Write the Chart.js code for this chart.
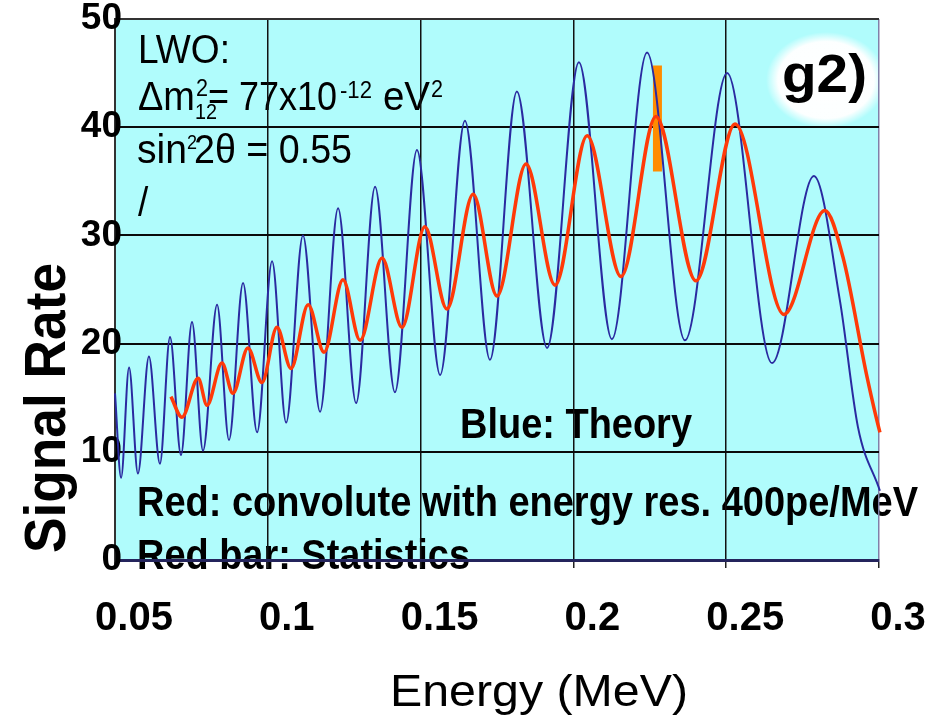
<!DOCTYPE html>
<html>
<head>
<meta charset="utf-8">
<script src="https://cdn.jsdelivr.net/npm/chart.js@4.4.1/dist/chart.umd.min.js"></script>
<style>
    body { margin: 0; background: #ffffff; }
</style>
</head>
<body>
<canvas id="grafico" width="935" height="726"></canvas>
<script>
// Dados - curva azul (teoria)
const energiaTeoria = [0.0500, 0.0520, 0.0546, 0.0575, 0.0611, 0.0647, 0.0680, 0.0716, 0.0752, 0.0788,
    0.0834, 0.0873, 0.0919, 0.0965, 0.1014, 0.1060, 0.1115, 0.1171, 0.1230, 0.1289,
    0.1351, 0.1416, 0.1488, 0.1564, 0.1645, 0.1727, 0.1815, 0.1914, 0.2018, 0.2126,
    0.2241, 0.2365, 0.2503, 0.2650, 0.2787, 0.2872, 0.2931, 0.3003, 0.3030];
const sinalTeoria = [15.4, 7.6, 17.8, 8.0, 18.8, 8.9, 20.6, 9.7, 22.0, 10.1,
    23.6, 11.1, 25.6, 11.8, 27.6, 12.7, 30.0, 13.7, 32.5, 14.5,
    34.5, 15.5, 37.9, 17.1, 40.6, 18.5, 43.3, 19.6, 46.0, 20.4,
    46.9, 20.3, 45.0, 18.2, 35.5, 24.0, 12.3, 6.4, 3.9];

// curva vermelha (convolução com resolução em energia)
const energiaConvolucao = [0.0683, 0.0719, 0.0772, 0.0801, 0.0850, 0.0886, 0.0935, 0.0981, 0.1030, 0.1076,
    0.1132, 0.1184, 0.1246, 0.1302, 0.1374, 0.1439, 0.1514, 0.1586, 0.1672, 0.1750,
    0.1845, 0.1940, 0.2045, 0.2156, 0.2270, 0.2401, 0.2529, 0.2689, 0.2823, 0.2882,
    0.2961, 0.3003, 0.3020];
const sinalConvolucao = [15.1, 13.2, 16.8, 14.3, 18.2, 15.4, 19.6, 16.4, 21.5, 17.7,
    23.6, 19.2, 25.9, 20.3, 27.9, 21.5, 30.8, 23.2, 33.8, 24.4,
    36.6, 25.4, 39.2, 26.2, 41.0, 25.8, 40.3, 22.7, 32.3, 28.0,
    16.9, 11.8, 10.2];

// barra de erro (estatística)
const energiaBarra = [0.2275, 0.2275];
const sinalBarra = [35.9, 45.7];

// eixos
const ticksEnergia = [0.05, 0.1, 0.15, 0.2, 0.25, 0.3];
const rotulosEnergia = ['0.05', '0.1', '0.15', '0.2', '0.25', '0.3'];
const ticksSinal = [0, 10, 20, 30, 40, 50];
const rotulosSinal = ['0', '10', '20', '30', '40', '50'];

const fonteBase = "'Liberation Sans', Arial, sans-serif";

function juntarPontos(xs, ys) {
    let pontos = [];
    for (let i = 0; i < xs.length; i++) {
        pontos.push({ x: xs[i], y: ys[i] });
    }
    return pontos;
}

// escreve um texto ajustando a largura (o original é um pouco estreito)
function escrever(ctx, texto, x, y, fonte, largura) {
    ctx.save();
    ctx.font = fonte;
    ctx.textAlign = 'left';
    ctx.textBaseline = 'alphabetic';
    let medida = ctx.measureText(texto).width;
    ctx.translate(x, y);
    ctx.scale(largura ? largura / medida : 0.9, 1);
    ctx.fillText(texto, 0, 0);
    ctx.restore();
}

// fundo ciano, brilho do "g2)" e textos
const pluginFundo = {
    id: 'fundo',
    beforeDraw(chart) {
        const ctx = chart.ctx;
        const a = chart.chartArea;
        ctx.save();
        ctx.fillStyle = '#ffffff';
        ctx.fillRect(0, 0, chart.width, chart.height);
        ctx.fillStyle = '#b0fcfc';
        ctx.fillRect(a.left, a.top, a.right - a.left, a.bottom - a.top);

        ctx.save();
        ctx.translate(826, 80);
        ctx.scale(1, 0.8);
        let brilho = ctx.createRadialGradient(0, 0, 0, 0, 0, 60);
        brilho.addColorStop(0, 'rgba(255,255,255,1)');
        brilho.addColorStop(0.8, 'rgba(255,255,255,0.97)');
        brilho.addColorStop(1, 'rgba(255,255,255,0)');
        ctx.fillStyle = brilho;
        ctx.beginPath();
        ctx.arc(0, 0, 60, 0, Math.PI * 2);
        ctx.fill();
        ctx.restore();

        ctx.fillStyle = '#000000';
        const reg = '41px ' + fonteBase;
        const peq = '24px ' + fonteBase;
        const neg = 'bold 43px ' + fonteBase;

        escrever(ctx, 'LWO:', 138, 63, reg, 92);
        escrever(ctx, 'Δm', 138, 110, reg, 57);
        escrever(ctx, '2', 196, 96, peq);
        escrever(ctx, '12', 195, 119, '22px ' + fonteBase);
        escrever(ctx, '= 77x10', 208, 110, reg, 129);
        escrever(ctx, '-12', 340, 98, peq, 32);
        escrever(ctx, 'eV', 383, 110, reg, 47);
        escrever(ctx, '2', 431, 97, peq);
        escrever(ctx, 'sin', 137, 163, reg, 50);
        escrever(ctx, '2', 187, 149, '20px ' + fonteBase);
        escrever(ctx, '2θ = 0.55', 194, 163, reg, 158);
        escrever(ctx, '/', 138, 216, reg);

        escrever(ctx, 'g2)', 782, 92, 'bold 54px ' + fonteBase, 85);
        escrever(ctx, 'Blue: Theory', 460, 438, neg, 232);
        escrever(ctx, 'Red: convolute with energy res. 400pe/MeV', 137, 516, neg, 781);
        escrever(ctx, 'Red bar: Statistics', 137, 569, neg, 333);

        // títulos dos eixos
        escrever(ctx, 'Energy (MeV)', 390, 706, '44px ' + fonteBase, 298);
        ctx.save();
        ctx.translate(65, 553);
        ctx.rotate(-Math.PI / 2);
        escrever(ctx, 'Signal Rate', 0, 0, 'bold 57px ' + fonteBase, 290);
        ctx.restore();

        ctx.restore();
    }
};

function plotarGrafico() {
    let dados = {
        datasets: [{
            label: 'Red: convolute',
            data: juntarPontos(energiaConvolucao, sinalConvolucao),
            borderColor: '#ff3a08',
            borderWidth: 3.5,
            pointRadius: 0,
            cubicInterpolationMode: 'monotone',
            clip: { left: 5, top: 5, right: 12, bottom: 5 },
            order: 0
        }, {
            label: 'Blue: Theory',
            data: juntarPontos(energiaTeoria, sinalTeoria),
            borderColor: '#2a2aa0',
            borderWidth: 2,
            pointRadius: 0,
            cubicInterpolationMode: 'monotone',
            clip: { left: 5, top: 5, right: 12, bottom: 5 },
            order: 1
        }, {
            label: 'Red bar: Statistics',
            data: juntarPontos(energiaBarra, sinalBarra),
            borderColor: '#ff8c00',
            borderWidth: 9,
            borderCapStyle: 'butt',
            pointRadius: 0,
            order: 2
        }]
    };

    const config = {
        type: 'line',
        data: dados,
        options: {
            responsive: false,
            animation: false,
            devicePixelRatio: 1,
            layout: { padding: { left: 0, right: 56, top: 19, bottom: 0 } },
            plugins: {
                legend: { display: false },
                tooltip: { enabled: false }
            },
            scales: {
                x: {
                    type: 'linear',
                    min: 0.05,
                    max: 0.3,
                    afterBuildTicks: function (s) {
                        s.ticks = ticksEnergia.map(v => ({ value: v }));
                    },
                    afterFit: function (s) {
                        s.height = 166;
                        s.paddingLeft = 0;
                        s.paddingRight = 0;
                    },
                    ticks: {
                        callback: (v, i) => rotulosEnergia[i],
                        autoSkip: false,
                        maxRotation: 0,
                        labelOffset: 19,
                        padding: 27,
                        color: '#000000',
                        font: { family: fonteBase, size: 40, weight: 'bold', lineHeight: 1.2 }
                    },
                    grid: {
                        color: c => (c.tick && c.tick.value === 0.3) ? '#8080a8' : '#111111',
                        lineWidth: 1.5,
                        drawTicks: true,
                        tickLength: 8,
                        tickColor: '#222222'
                    },
                    border: { color: '#24245c', width: 3 }
                },
                y: {
                    min: 0,
                    max: 50,
                    afterBuildTicks: function (s) {
                        s.ticks = ticksSinal.map(v => ({ value: v }));
                    },
                    afterFit: function (s) {
                        s.width = 115;
                        s.paddingTop = 0;
                        s.paddingBottom = 0;
                        // no original os números encostam/passam da borda do gráfico
                        s._computeLabelArea = () => undefined;
                    },
                    ticks: {
                        callback: (v, i) => rotulosSinal[i],
                        autoSkip: false,
                        padding: -7,
                        color: '#000000',
                        font: { family: fonteBase, size: 37, weight: 'bold', lineHeight: 1.2 }
                    },
                    grid: {
                        color: c => {
                            if (!c.tick) return '#111111';
                            if (c.tick.value === 0) return '#24245c';
                            if (c.tick.value === 50) return '#333333';
                            return '#0a0a0a';
                        },
                        lineWidth: c => (c.tick && c.tick.value === 0) ? 3 : 2,
                        drawTicks: false
                    },
                    border: { color: '#333333', width: 2 }
                }
            }
        },
        plugins: [pluginFundo]
    };

    let grafico = new Chart(document.getElementById('grafico'), config);
    console.log('área do gráfico:', grafico.chartArea);
}

plotarGrafico();
</script>
</body>
</html>
